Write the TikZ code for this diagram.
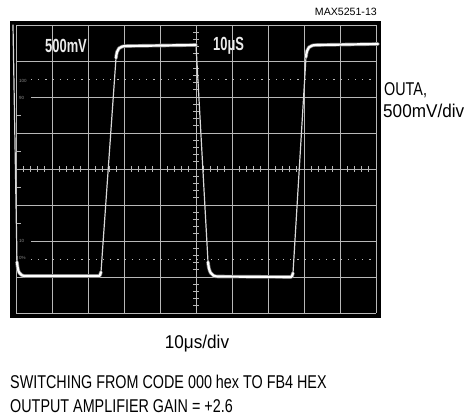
\documentclass[tikz,border=0pt]{standalone}
\usepackage{fontspec}
\setmainfont{Liberation Sans}
\newfontfamily\narc[FakeStretch=0.776]{Liberation Sans}
\newfontfamily\narl[FakeStretch=0.927]{Liberation Sans}
\newfontfamily\scr[FakeStretch=0.68]{Liberation Sans}
\begin{document}
\begin{tikzpicture}[x=1pt,y=-1pt,
  grid/.style={draw=white!72!black, line width=0.8pt},
  dotl/.style={grid, dash pattern=on 1.2pt off 6pt},
  trace/.style={draw=white, line width=2.2pt, line join=round, line cap=round},
  halo/.style={draw=white!45!black, line width=3.6pt, line join=round, line cap=round},
  edge/.style={draw=white!85!black, line width=1.2pt, line join=round, line cap=round},
  lblc/.style={inner sep=0pt, font=\narc\fontsize{18.5}{18.5}\selectfont},
  lbll/.style={inner sep=0pt, font=\narl\fontsize{18.5}{18.5}\selectfont},
  scrtxt/.style={inner sep=0pt, text=white!92!black, font=\scr\bfseries\fontsize{19}{19}\selectfont},
  tiny/.style={inner sep=0pt, text=white!55!black, font=\fontsize{4.5}{4.5}\selectfont}]
\useasboundingbox (0,0) rectangle (465,418);
% screen
\fill[black] (10,21) rectangle (381,318);
% graticule
\foreach \i in {0,...,10} \draw[grid] ({16+36*\i},25) -- ({16+36*\i},313);
\foreach \j in {0,1,3,4,5,7,8} \draw[grid] (16,{25+36*\j}) -- (376,{25+36*\j});
\draw[grid] (31,97) -- (376,97);
\draw[grid] (31,241) -- (376,241);
\draw[dotl] (31,79) -- (376,79);
\draw[dotl] (31,259) -- (376,259);
\foreach \k in {1,...,39} \draw[grid] (193,{25+7.2*\k}) -- (199,{25+7.2*\k});
\foreach \k in {1,...,49} \draw[grid] ({16+7.2*\k},166) -- ({16+7.2*\k},172);
\foreach \y in {115,151,187,223} \draw[grid] (16,\y) -- (21,\y);
\node[tiny, anchor=west] (p100) at (19,81) {100};
\node[tiny, anchor=west] (p90) at (19,98) {90};
\node[tiny, anchor=west] (p10) at (19,241) {10};
\node[tiny, anchor=west] (p0) at (19,258) {0\%};
% trace: fast edges (dim, thin)
\draw[edge] (13,25) -- (17,262);
\draw[edge] (101,272) -- (116,58);
\draw[edge] (196,45) -- (208,262);
\draw[edge] (293,273) -- (306,57);
% trace: flat levels (bright, thick)
\foreach \s in {halo,trace}{
\draw[\s] (17,262) .. controls (18,272) and (19,276) .. (26,276) -- (99,276)
  .. controls (100,276) and (100,275) .. (101,272);
\draw[\s] (116,58) .. controls (117,48) and (119,46) .. (128,46) -- (196,45);
\draw[\s] (208,262) .. controls (209,272) and (211,276.5) .. (218,276.5) -- (291,277)
  .. controls (292,277) and (292,276) .. (293,273);
\draw[\s] (306,57) .. controls (307,47) and (309,45) .. (318,45) -- (378,44);
}
% on-screen text
\node[scrtxt, anchor=base west] (vdiv) at (45,52) {500mV};
\node[scrtxt, anchor=base west] (tset) at (213,50) {10μS};
% labels
\node[anchor=base east, inner sep=0pt, font=\fontsize{10.6}{10.6}\selectfont] (fig) at (377,15) {MAX5251-13};
\node[lblc, anchor=base west] (outa) at (384,95) {OUTA,};
\node[lbll, anchor=base west] (vscale) at (383,117) {500mV/div};
\node[lbll, anchor=base] (tdiv) at (197,348) {10μs/div};
\node[lblc, anchor=base west] (l1) at (10,388) {SWITCHING FROM CODE 000 hex TO FB4 HEX};
\node[lblc, anchor=base west] (l2) at (10,412) {OUTPUT AMPLIFIER GAIN = +2.6};
\end{tikzpicture}
\end{document}
